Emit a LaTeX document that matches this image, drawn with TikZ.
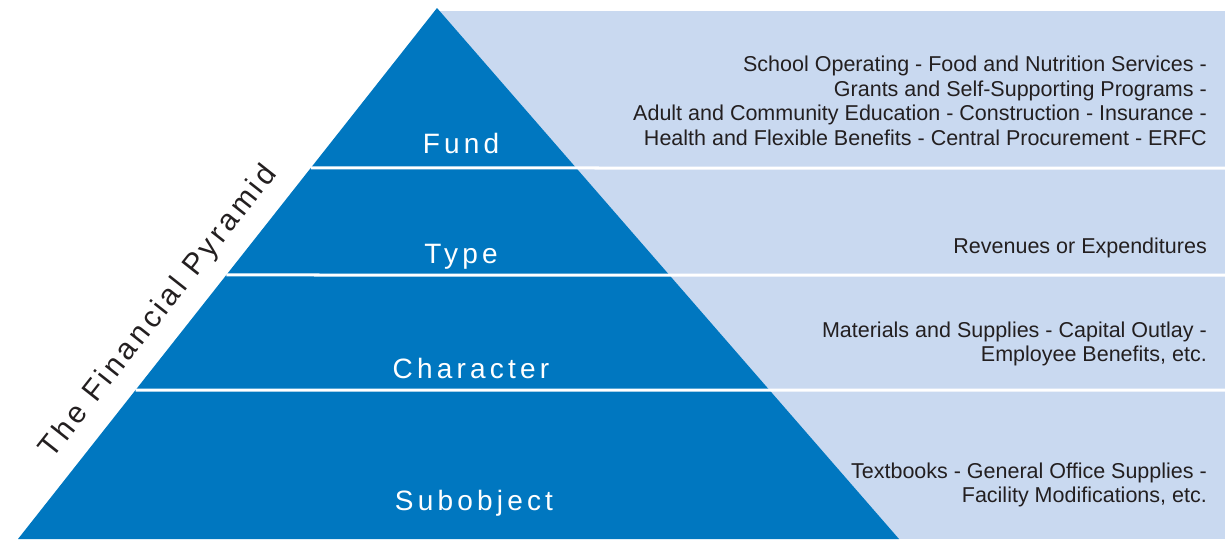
\documentclass[tikz,border=0pt]{standalone}
\usepackage{fontspec}
\setmainfont{Liberation Sans}
\newfontfamily\tierfont[LetterSpace=15]{Liberation Sans}
\newfontfamily\titlefont[LetterSpace=12]{Liberation Sans}
\usepackage{tikz}
\usetikzlibrary{calc}
\definecolor{pyrBlue}{HTML}{0077C0}
\definecolor{panelBlue}{HTML}{C9D9F0}
\definecolor{inkGray}{HTML}{231F20}

\begin{document}
\begin{tikzpicture}[
  x=1pt,y=-1pt,
  every node/.style={inner sep=0pt},
  tier/.style={anchor=base,text=white,font=\tierfont\fontsize{28}{30}\selectfont},
  detail/.style={anchor=east,align=right,text=inkGray,font=\fontsize{21.5}{24.5}\selectfont},
  divider/.style={white,line width=3pt}
]
\useasboundingbox (0,0) rectangle (1225,539);

% Panel and pyramid
\fill[panelBlue] (437,11) rectangle (1225,539);
\coordinate (apex) at (437,8);
\coordinate (baseL) at (18,539);
\coordinate (baseR) at (899,539);
\fill[pyrBlue] (apex) -- (baseR) -- (baseL) -- cycle;

% Dividers
\foreach \y/\t in {168/0.3013,275/0.5028,390/0.7194}
  \draw[divider] ($(apex)!\t!(baseL)$) -- (1225,\y);

% Tier names
\node[tier] (fund) at (461,153) {Fund};
\node[tier] (type) at (461,263) {Type};
\node[tier] (character) at (471,378) {Character};
\node[tier] (subobject) at (474,510) {Subobject};

% Descriptions
\node[detail] (fundtext) at (1207,101) {School Operating - Food and Nutrition Services -\\
  Grants and Self-Supporting Programs -\\
  Adult and Community Education - Construction - Insurance -\\
  Health and Flexible Benefits - Central Procurement - ERFC};
\node[detail] (typetext) at (1207,248) {Revenues or Expenditures};
\node[detail] (chartext) at (1207,344) {Materials and Supplies - Capital Outlay -\\
  Employee Benefits, etc.};
\node[detail] (subtext) at (1207,485) {Textbooks - General Office Supplies -\\
  Facility Modifications, etc.};

% Title along the left edge
\node[rotate=51.7,text=inkGray,font=\titlefont\fontsize{30}{32}\selectfont]
  (title) at (159,312) {The Financial Pyramid};
\end{tikzpicture}
\end{document}
